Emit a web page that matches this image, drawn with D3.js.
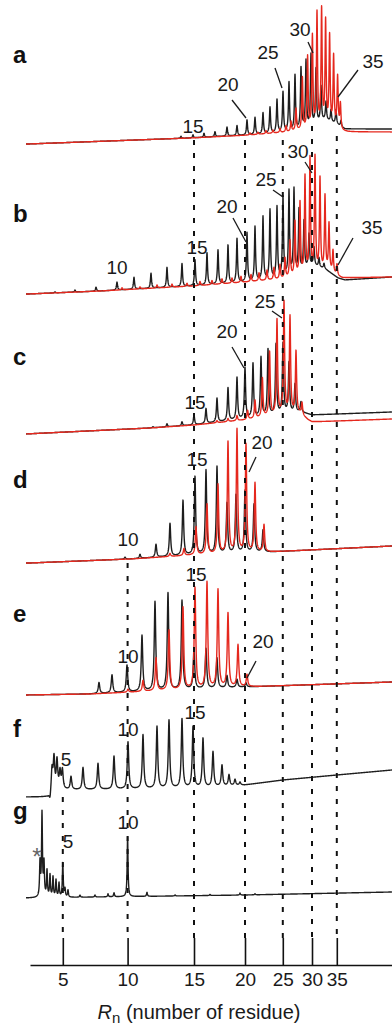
<!DOCTYPE html>
<html>
<head>
<meta charset="utf-8">
<script src="https://cdn.jsdelivr.net/npm/d3@7"></script>
<style>
  html, body { margin: 0; padding: 0; background: #fff; }
  svg { display: block; }
  text { font-family: "Liberation Sans", Arial, sans-serif; }
</style>
</head>
<body>
<svg id="chart" width="392" height="1028"></svg>
<script>
// residue number -> retention time (min) used for the dashed guides and the axis
const residues = [5, 10, 15, 20, 25, 30, 35];
const residueTimes = [10.7, 26.9, 43.5, 56.25, 65.7, 73, 79.2];

// peaks are [retention time, height]; baselines are [time, level]
const aBlack = [[40.25,2],[43.25,3],[46,4],[48.75,5],[51.75,9],[54.25,10],[56.75,15],[58.75,17],[60.75,21],[62.5,26],[64.25,33],[65.75,40],[67.25,49],[68.75,55],[70.25,61],[71.5,67],[72.75,72],[74,55],[75.25,35],[76.5,18],[77.75,12],[79,14],[80.25,6]];
const aBlackBase = [[2,0],[42.5,6],[57.5,9],[67.5,12],[72.5,16],[76.25,24],[79,20],[81.25,15],[93,15]];
const aRed = [[57.5,2],[59.5,2],[61.5,3],[63.25,3],[65,4],[66.5,6],[67.75,10],[69,22],[70.6,52],[71.9,72],[73.1,92],[74.25,114],[75.4,117],[76.4,105],[77.4,90],[78.4,70],[79.4,50],[80.1,25]];
const aRedBase = [[2,0],[42.5,6],[57.5,9],[67.5,12],[72.5,14],[79.25,16],[80.5,12.5],[82,12],[93,12]];

const bBlack = [[8.75,1],[13.75,2],[19,4],[24.25,8],[28.5,12],[32.75,15],[36.75,20],[40.5,23],[43.75,26],[46.75,32],[49.5,34],[52,38],[54.25,44],[56.75,49],[58.75,54],[60.75,63],[62.5,69],[64.25,71],[65.75,80],[67.25,84],[68.5,84],[69.75,62],[71,48],[72.25,32],[73.5,18],[74.75,9],[76,5]];
const bBlackBase = [[2,0],[20,3],[43.25,8],[56.75,12],[65.75,16],[70,22],[73,29],[76.25,25],[79.5,16],[81.25,14],[93,17]];
const bRed = [[25.5,2],[30,2],[34.25,3],[38,3],[41.75,3],[45,4],[48,4],[50.5,5],[53,5],[55.25,6],[57.75,7],[59.75,8],[61.75,10],[63.5,12],[65,14],[66.25,20],[67.5,36],[68.75,54],[70,72],[71.25,97],[72.5,114],[73.75,115],[75,93],[76.25,75],[77.25,47],[78.25,22],[79.25,11]];
const bRedBase = [[2,0],[20,3],[43.25,8],[56.75,12],[65.75,15],[72.5,20],[77.5,22],[79.25,18],[80.5,16],[93,17]];

const cBlack = [[33.25,1],[36.75,3],[40.5,4],[43.5,10],[46.5,15],[49.25,24],[52,33],[54.25,42],[56.25,51],[58.25,54],[60.25,59],[62,66],[64,70],[65.75,70],[67.25,50],[68.75,28],[70.25,10]];
const cBlackBase = [[1.25,0],[32.5,6],[43.5,9],[56.25,15],[65.75,20],[70,22],[72,20],[73,19],[93,22]];
const cRed = [[49.25,2],[52,3],[54.25,5],[56.9,9],[58.75,18],[60.6,39],[62.4,64],[64.25,95],[66,112],[67.5,97],[69,62],[70.5,12]];
const cRedBase = [[1.25,0],[32.5,6],[43.5,9],[56.25,14],[65.75,19],[70,20],[72,14],[73,12],[93,15]];

const dBlack = [[26.25,2],[30,4],[34,13],[37.5,33],[40.75,55],[43.75,78],[46.5,84],[49.25,87],[51.75,50],[54,58],[56.25,62],[58.5,48],[60.75,22]];
const dRed = [[37.5,3],[41,7],[44,28],[46.75,50],[49.5,69],[52,111],[54.25,123],[56.5,108],[58.75,69],[61,27]];
const dBase = [[2.5,0],[27.5,4],[43.75,8],[62.5,11],[93,17]];

const eBlack = [[19.75,11],[23,18],[26.75,27],[30.5,56],[33.75,89],[37,97],[40.5,89],[43.5,40],[46.5,40],[49.25,30],[51.75,12],[54.25,8],[56.5,4]];
const eRed = [[27,3],[30.75,11],[34,33],[37.25,60],[40.75,82],[43.75,101],[46.75,106],[49.5,98],[52,74],[54.5,42],[56.75,12]];
const eBase = [[1.25,0],[17.5,1],[56.25,8],[93,13]];

const fBlack = [[7.5,-8],[8,22],[8.5,32],[9.25,29],[10,17],[10.6,19],[12.75,13],[15.75,22],[19.5,26],[23.5,33],[27,47],[30.75,54],[34.25,62],[37.25,68],[40.5,69],[43.25,61],[45.75,49],[48.25,35],[50.5,21],[52.25,11],[53.75,6],[55,3]];
const fBase = [[2,0],[7,0],[8,5],[10,7],[32.5,8],[45,9],[56.25,12],[65.75,17],[79.25,22],[93,27]];

const gBlack = [[5,34],[5.5,83],[6,33],[6.75,26],[7.5,22],[8.25,20],[9,17],[9.75,14],[10.7,34],[11.25,8],[12,7],[15,2],[18.75,2],[22,3],[23.5,4],[26.9,60],[31.75,4],[38.75,1],[47.5,1],[55,2],[58.75,1]];
const gBase = [[2,0],[20,1],[56.25,3],[93,6]];

// residue labels: [text, time, level]; leader lines: [t1, level1, t2, level2]
const aLabels = [['15',43.25,11],['20',52,53],['25',62,85],['30',70,108],['35',88.25,76]];
const aLeaders = [[53,44,56.5,26],[63.75,76,65.5,56],[72,102,73.25,91],[84.5,74,79.5,47]];
const bLabels = [['10',24.25,20],['15',44.25,40],['20',51.75,81],['25',61.5,108],['30',69.5,136],['35',88,60]];
const bLeaders = [[53.25,76,56.5,52],[63.25,104,65.75,97],[71.25,132,73,121],[83.25,56,79.5,29]];
const cLabels = [['15',43.75,25],['20',51.75,96],['25',61.25,126]];
const cLeaders = [[53,87,56,66],[63,123,65.5,116]];
const dLabels = [['10',27,17],['15',44.25,97],['20',60.5,114]];
const dLeaders = [[59,106,57.25,91]];
const eLabels = [['10',27,32],['15',44,114],['20',60.75,47]];
const eLeaders = [[59,34,56.75,17]];
const fLabels = [['5',11.5,31],['10',27,61],['15',43.75,78]];
const gLabels = [['5',12,50],['10',27,69]];

// layout
const W = 392, H = 1028;
const blackColor = '#1e1e1e', redColor = '#e5281e';
const dashTops = [797, 563, 140, 140, 140, 126, 136];
const dashBottom = 938, axisY = 965;

const panels = [
  { id: 'a', zeroY: 144, letterY: 63, w: 0.16, black: aBlack, blackBase: aBlackBase, red: aRed, redBase: aRedBase, labels: aLabels, leaders: aLeaders },
  { id: 'b', zeroY: 294, letterY: 222, w: 0.16, black: bBlack, blackBase: bBlackBase, red: bRed, redBase: bRedBase, labels: bLabels, leaders: bLeaders },
  { id: 'c', zeroY: 434, letterY: 365, w: 0.18, black: cBlack, blackBase: cBlackBase, red: cRed, redBase: cRedBase, labels: cLabels, leaders: cLeaders },
  { id: 'd', zeroY: 563, letterY: 488, w: 0.2, black: dBlack, blackBase: dBase, red: dRed, redBase: dBase, labels: dLabels, leaders: dLeaders },
  { id: 'e', zeroY: 695, letterY: 622, w: 0.22, black: eBlack, blackBase: eBase, red: eRed, redBase: eBase, labels: eLabels, leaders: eLeaders },
  { id: 'f', zeroY: 797, letterY: 737, w: 0.22, black: fBlack, blackBase: fBase, labels: fLabels, leaders: [] },
  { id: 'g', zeroY: 898, letterY: 819, w: 0.13, black: gBlack, blackBase: gBase, labels: gLabels, leaders: [] }
];

const svg = d3.select('#chart');
svg.append('rect').attr('width', W).attr('height', H).attr('fill', '#fff');

const x = d3.scaleLinear().domain([2.5, 93]).range([30, W]);

// sum of narrow peaks on top of a piecewise-linear baseline
function trace(peaks, base, w) {
  const baseAt = d3.scaleLinear()
    .domain(base.map(d => d[0]))
    .range(base.map(d => d[1]))
    .clamp(true);
  const ts = d3.range(1.5, 93.01, 0.04).concat(peaks.map(p => p[0])).sort(d3.ascending);
  return ts.map(t => [t, baseAt(t) + d3.sum(peaks, p => p[1] / (1 + ((t - p[0]) / w) ** 2))]);
}

panels.forEach(p => {
  const y = d3.scaleLinear().domain([0, 100]).range([p.zeroY, p.zeroY - 100]);
  const line = d3.line().x(d => x(d[0])).y(d => y(d[1]));
  const g = svg.append('g').attr('class', 'panel-' + p.id);

  g.append('path')
    .attr('d', line(trace(p.black, p.blackBase, p.w)))
    .attr('fill', 'none')
    .attr('stroke', blackColor)
    .attr('stroke-width', 1.4)
    .attr('stroke-linejoin', 'round');

  if (p.red) {
    g.append('path')
      .attr('d', line(trace(p.red, p.redBase, p.w)))
      .attr('fill', 'none')
      .attr('stroke', redColor)
      .attr('stroke-width', 1.4)
      .attr('stroke-linejoin', 'round');
  }

  g.append('text')
    .attr('x', 13)
    .attr('y', p.letterY)
    .attr('font-size', 24)
    .attr('font-weight', 'bold')
    .attr('fill', '#111')
    .text(p.id);

  g.selectAll('text.num')
    .data(p.labels)
    .enter().append('text')
    .attr('class', 'num')
    .attr('x', d => x(d[1]))
    .attr('y', d => y(d[2]))
    .attr('text-anchor', 'middle')
    .attr('font-size', 19)
    .attr('fill', '#1a1a1a')
    .text(d => d[0]);

  g.selectAll('line.leader')
    .data(p.leaders)
    .enter().append('line')
    .attr('class', 'leader')
    .attr('x1', d => x(d[0]))
    .attr('y1', d => y(d[1]))
    .attr('x2', d => x(d[2]))
    .attr('y2', d => y(d[3]))
    .attr('stroke', '#1a1a1a')
    .attr('stroke-width', 1.3);

  if (p.id === 'g') {
    g.append('text')
      .attr('x', x(4.25))
      .attr('y', y(33))
      .attr('text-anchor', 'middle')
      .attr('font-size', 24)
      .attr('fill', '#666')
      .text('*');
  }
});

// dashed guides at each residue position
svg.append('g')
  .selectAll('line')
  .data(residueTimes)
  .enter().append('line')
  .attr('x1', d => x(d))
  .attr('x2', d => x(d))
  .attr('y1', (d, i) => dashTops[i])
  .attr('y2', dashBottom)
  .attr('stroke', '#111')
  .attr('stroke-width', 2)
  .attr('stroke-dasharray', '5,8');

// residue axis
const axis = d3.axisBottom(x)
  .tickValues(residueTimes)
  .tickFormat((d, i) => residues[i])
  .tickSizeInner(-(axisY - dashBottom))
  .tickSizeOuter(0)
  .tickPadding(8);

const gAxis = svg.append('g')
  .attr('transform', `translate(0,${axisY})`)
  .call(axis)
  .attr('font-size', 19)
  .attr('font-family', '"Liberation Sans", Arial, sans-serif');
gAxis.select('.domain').attr('stroke', '#111').attr('stroke-width', 1.6);
gAxis.selectAll('.tick line').attr('stroke', '#111').attr('stroke-width', 1.6);
gAxis.selectAll('.tick text').attr('fill', '#1a1a1a');

const title = svg.append('text')
  .attr('x', 199)
  .attr('y', 1019)
  .attr('text-anchor', 'middle')
  .attr('font-size', 20)
  .attr('fill', '#1a1a1a');
title.append('tspan').attr('font-style', 'italic').text('R');
title.append('tspan').attr('font-size', 15).attr('dy', 4).text('n');
title.append('tspan').attr('dy', -4).text(' (number of residue)');
</script>
</body>
</html>
